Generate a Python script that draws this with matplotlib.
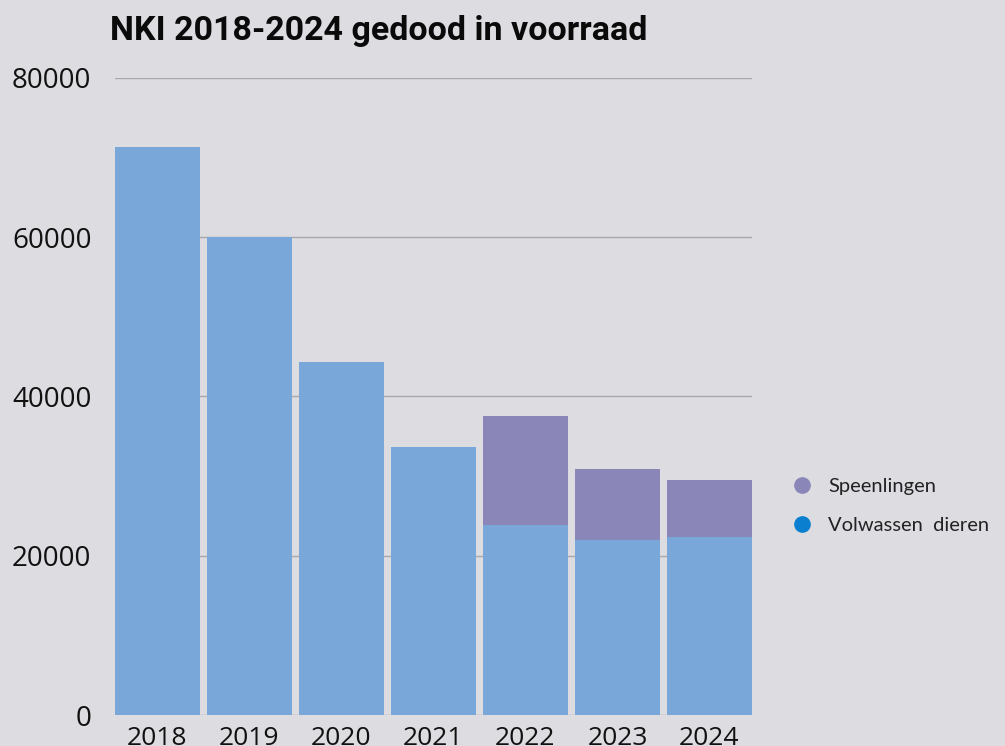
import matplotlib
matplotlib.use("Agg")
import matplotlib.pyplot as plt
from matplotlib.lines import Line2D

years = ["2018", "2019", "2020", "2021", "2022", "2023", "2024"]
volwassen = [71300, 60000, 44300, 33600, 23900, 22000, 22300]
speenlingen = [0, 0, 0, 0, 13600, 8900, 7200]
yticks = [0, 20000, 40000, 60000, 80000]

bg = "#dddce1"
blue = "#7aa7da"
purple = "#8a87b8"
dark_blue = "#0a7fd0"

fig = plt.figure(figsize=(10.05, 7.46), dpi=100, facecolor=bg)
ax = fig.add_axes([115/1005, 1-715/746, (752-115)/1005, (715-78)/746], facecolor=bg)

x = range(len(years))
w = 85/92
ax.bar(x, volwassen, width=w, color=blue, zorder=3)
ax.bar(x, speenlingen, width=w, bottom=volwassen, color=purple, zorder=3)

ax.set_xlim(-0.5 + (1-w)/2, len(years) - 0.5 - (1-w)/2)
ax.set_ylim(0, 80000)
ax.set_yticks(yticks)
ax.set_yticklabels([str(v) for v in yticks], fontsize=20, family="Open Sans")
ax.set_xticks(list(x))
ax.set_xticklabels(years, fontsize=19, family="Open Sans")
ax.tick_params(axis="both", length=0, colors="#111111")
ax.tick_params(axis="y", pad=17)
ax.tick_params(axis="x", pad=8)
ax.yaxis.grid(True, color="#a8a8ab", linewidth=1, zorder=0)
ax.set_axisbelow(True)
for s in ax.spines.values():
    s.set_visible(False)

fig.text(110/1005, 1-40/746, "NKI 2018-2024 gedood in voorraad", fontsize=24.5,
         fontweight="bold", family="Roboto", color="#0a0a0a", ha="left", va="baseline")

handles = [
    Line2D([], [], marker="o", linestyle="", markersize=11, color=purple, label="Speenlingen"),
    Line2D([], [], marker="o", linestyle="", markersize=11, color=dark_blue, label="Volwassen  dieren"),
]
leg = fig.legend(handles=handles, loc="center left", bbox_to_anchor=(774/1005, 1-506/746),
                 frameon=False, prop={"family": "Lato", "size": 14.5}, labelspacing=1.05,
                 handletextpad=0.8, handlelength=1.0)
for t in leg.get_texts():
    t.set_color("#222222")

fig.savefig("out.png", dpi=100, facecolor=bg)
